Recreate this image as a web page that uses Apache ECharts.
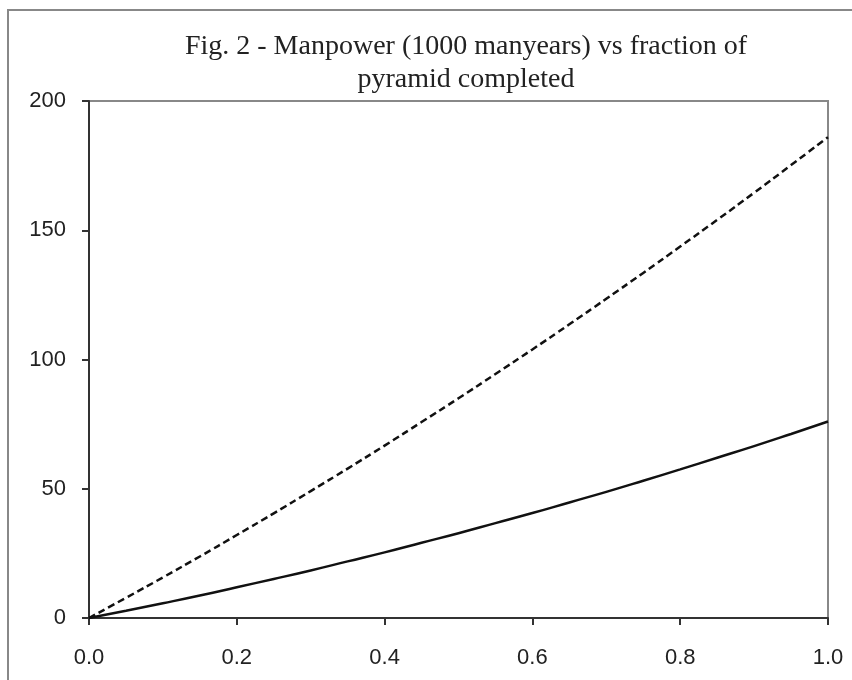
<!DOCTYPE html>
<html>
<head>
<meta charset="utf-8">
<title>Fig. 2 - Manpower vs fraction of pyramid completed</title>
<script src="https://cdn.jsdelivr.net/npm/echarts@6/dist/echarts.min.js"></script>
<style>
    html, body { margin: 0; padding: 0; background: #fff; }
    #chart { width: 852px; height: 680px; }
</style>
</head>
<body>
<div id="chart"></div>
<script>
    // fraction of pyramid completed
    var fraction = [0, 0.05, 0.1, 0.15, 0.2, 0.25, 0.3, 0.35, 0.4, 0.45, 0.5,
        0.55, 0.6, 0.65, 0.7, 0.75, 0.8, 0.85, 0.9, 0.95, 1.0];
    // dashed curve (upper)
    var upperManpower = [0, 7.8, 15.7, 23.8, 32.1, 40.5, 49.1, 57.8, 66.7, 75.8, 85,
        94.4, 103.9, 113.6, 123.5, 133.5, 143.7, 154.0, 164.5, 175.2, 186];
    // solid curve (lower)
    var lowerManpower = [0, 2.8, 5.7, 8.7, 11.9, 15.1, 18.4, 21.9, 25.4, 29.1, 32.8,
        36.7, 40.6, 44.7, 48.8, 53.1, 57.5, 62.0, 66.5, 71.2, 76];

    var titleLines = ['Fig. 2 - Manpower (1000 manyears) vs fraction of', 'pyramid completed'];

    function pairs(ys) {
        return fraction.map(function (x, i) { return [x, ys[i]]; });
    }

    var chart = echarts.init(document.getElementById('chart'));

    var option = {
        animation: false,
        backgroundColor: '#fff',
        title: {
            text: titleLines.join('\n'),
            left: 461,
            top: 25,
            textAlign: 'center',
            textStyle: {
                fontFamily: 'Liberation Serif',
                fontWeight: 'normal',
                fontSize: 28,
                lineHeight: 33,
                color: '#222'
            }
        },
        graphic: [{
            type: 'rect',
            shape: { x: 8, y: 10, width: 900, height: 720 },
            style: { fill: 'none', stroke: '#888', lineWidth: 2 },
            silent: true
        }],
        grid: {
            left: 89,
            top: 101,
            width: 739,
            height: 517,
            show: true,
            borderColor: '#888',
            borderWidth: 2,
            backgroundColor: 'transparent'
        },
        xAxis: {
            type: 'value',
            min: 0,
            max: 1,
            interval: 0.2,
            axisLine: { show: true, onZero: false, lineStyle: { color: '#333', width: 2 } },
            axisTick: { show: true, inside: false, length: 7, lineStyle: { color: '#333', width: 2 } },
            splitLine: { show: false },
            axisLabel: {
                margin: 29,
                fontFamily: 'Liberation Sans',
                fontSize: 22,
                color: '#222',
                formatter: function (v) { return v.toFixed(1); }
            }
        },
        yAxis: {
            type: 'value',
            min: 0,
            max: 200,
            interval: 50,
            axisLine: { show: true, lineStyle: { color: '#333', width: 2 } },
            axisTick: { show: true, inside: false, length: 7, lineStyle: { color: '#333', width: 2 } },
            splitLine: { show: false },
            axisLabel: {
                margin: 23,
                fontFamily: 'Liberation Sans',
                fontSize: 22,
                color: '#222'
            }
        },
        series: [{
            name: 'upper',
            type: 'line',
            data: pairs(upperManpower),
            smooth: true,
            showSymbol: false,
            lineStyle: { color: '#111', width: 2.5, type: [7, 4] }
        }, {
            name: 'lower',
            type: 'line',
            data: pairs(lowerManpower),
            smooth: true,
            showSymbol: false,
            lineStyle: { color: '#111', width: 2.5 }
        }]
    };

    chart.setOption(option);
</script>
</body>
</html>
